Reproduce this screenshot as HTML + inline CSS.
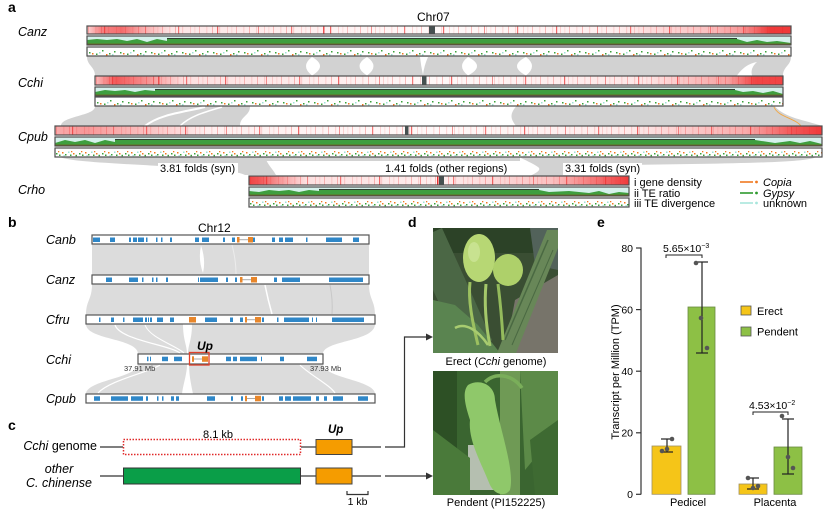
<!DOCTYPE html>
<html><head><meta charset="utf-8"><style>
html,body{margin:0;padding:0;background:#fff;}
svg{display:block;font-family:"Liberation Sans",Arial,sans-serif;}
.o{fill:none;stroke:#4e4e4e;stroke-width:1.2}
.bo{fill:#fff;stroke:#555;stroke-width:1.2}
.it{font-style:italic}
.tg{fill:#3f9e3f}
.tc{fill:#d4efe9}
.tk{fill:#1e1e1e}
.tb{fill:#7a5218;opacity:0.8}
</style></head><body>
<svg width="827" height="511" viewBox="0 0 827 511" xmlns="http://www.w3.org/2000/svg">
<defs>
<pattern id="gd" width="37" height="20" patternUnits="userSpaceOnUse">
<rect width="37" height="20" fill="#fff"/>
<rect x="1" width="1" height="20" fill="#f9c4c4"/>
<rect x="8" width="1.5" height="20" fill="#fde6e6"/>
<rect x="14" width="0.8" height="20" fill="#f7b0b0"/>
<rect x="21" width="1.2" height="20" fill="#fcdcdc"/>
<rect x="29" width="0.8" height="20" fill="#fad0d0"/>
<rect x="33" width="1.5" height="20" fill="#feeeee"/>
</pattern>
<pattern id="gd2" width="113" height="20" patternUnits="userSpaceOnUse">
<rect x="17" width="1.2" height="20" fill="#f06a6a"/>
<rect x="58" width="0.9" height="20" fill="#f28a8a"/>
<rect x="91" width="1.2" height="20" fill="#f47c7c"/>
</pattern>
<pattern id="dv" width="31" height="9" patternUnits="userSpaceOnUse">
<rect width="31" height="9" fill="#fff"/>
<rect x="2" y="5" width="1.5" height="1.5" fill="#3aa03a"/>
<rect x="9" y="6.5" width="1.5" height="1.5" fill="#3aa03a"/>
<rect x="15" y="3" width="1.5" height="1.5" fill="#3aa03a"/>
<rect x="22" y="6" width="1.5" height="1.5" fill="#3aa03a"/>
<rect x="27" y="4" width="1.5" height="1.5" fill="#3aa03a"/>
<rect x="5" y="6" width="1.5" height="1.5" fill="#f07a22"/>
<rect x="19" y="7" width="1.5" height="1.5" fill="#f07a22"/>
<rect x="12" y="5" width="1.5" height="1.5" fill="#9fe2d6"/>
<rect x="25" y="7" width="1.5" height="1.5" fill="#9fe2d6"/>
</pattern>
<pattern id="dv2" width="23" height="9" patternUnits="userSpaceOnUse">
<rect width="23" height="9" fill="#fff"/>
<rect x="1" y="5" width="1.5" height="1.5" fill="#3aa03a"/>
<rect x="4" y="6.5" width="1.5" height="1.5" fill="#3aa03a"/>
<rect x="7" y="4" width="1.5" height="1.5" fill="#f07a22"/>
<rect x="10" y="6" width="1.5" height="1.5" fill="#3aa03a"/>
<rect x="13" y="3.5" width="1.5" height="1.5" fill="#9fe2d6"/>
<rect x="15" y="6.5" width="1.5" height="1.5" fill="#3aa03a"/>
<rect x="18" y="5" width="1.5" height="1.5" fill="#f07a22"/>
<rect x="20.5" y="6.8" width="1.5" height="1.5" fill="#3aa03a"/>
<rect x="8.5" y="7" width="1.3" height="1.3" fill="#9fe2d6"/>
<rect x="3" y="3" width="1.3" height="1.3" fill="#f07a22"/>
<rect x="16" y="3" width="1.3" height="1.3" fill="#f07a22"/>
</pattern>
<linearGradient id="gCanz"><stop offset="0" stop-color="#ee3030" stop-opacity="0.2"/><stop offset="0.02" stop-color="#ee3030" stop-opacity="0.6"/><stop offset="0.05" stop-color="#ee3030" stop-opacity="0.7"/><stop offset="0.08" stop-color="#ee3030" stop-opacity="0.4"/><stop offset="0.12" stop-color="#ee3030" stop-opacity="0.12"/><stop offset="0.5" stop-color="#ee3030" stop-opacity="0.03"/><stop offset="0.75" stop-color="#ee3030" stop-opacity="0.08"/><stop offset="0.88" stop-color="#ee3030" stop-opacity="0.3"/><stop offset="0.93" stop-color="#ee3030" stop-opacity="0.5"/><stop offset="0.97" stop-color="#ee3030" stop-opacity="0.95"/><stop offset="1" stop-color="#ee3030" stop-opacity="0.95"/></linearGradient>
<linearGradient id="gCchi"><stop offset="0" stop-color="#ee3030" stop-opacity="0.3"/><stop offset="0.03" stop-color="#ee3030" stop-opacity="0.8"/><stop offset="0.08" stop-color="#ee3030" stop-opacity="0.5"/><stop offset="0.13" stop-color="#ee3030" stop-opacity="0.15"/><stop offset="0.5" stop-color="#ee3030" stop-opacity="0.03"/><stop offset="0.8" stop-color="#ee3030" stop-opacity="0.12"/><stop offset="0.92" stop-color="#ee3030" stop-opacity="0.45"/><stop offset="0.96" stop-color="#ee3030" stop-opacity="0.9"/><stop offset="1" stop-color="#ee3030" stop-opacity="0.9"/></linearGradient>
<linearGradient id="gCpub"><stop offset="0" stop-color="#ee3030" stop-opacity="0.4"/><stop offset="0.04" stop-color="#ee3030" stop-opacity="0.5"/><stop offset="0.12" stop-color="#ee3030" stop-opacity="0.3"/><stop offset="0.2" stop-color="#ee3030" stop-opacity="0.08"/><stop offset="0.5" stop-color="#ee3030" stop-opacity="0.03"/><stop offset="0.75" stop-color="#ee3030" stop-opacity="0.1"/><stop offset="0.9" stop-color="#ee3030" stop-opacity="0.4"/><stop offset="0.96" stop-color="#ee3030" stop-opacity="0.8"/><stop offset="1" stop-color="#ee3030" stop-opacity="0.95"/></linearGradient>
<linearGradient id="gCrho"><stop offset="0" stop-color="#ee3030" stop-opacity="0.9"/><stop offset="0.03" stop-color="#ee3030" stop-opacity="0.8"/><stop offset="0.08" stop-color="#ee3030" stop-opacity="0.5"/><stop offset="0.15" stop-color="#ee3030" stop-opacity="0.15"/><stop offset="0.5" stop-color="#ee3030" stop-opacity="0.08"/><stop offset="0.8" stop-color="#ee3030" stop-opacity="0.3"/><stop offset="0.92" stop-color="#ee3030" stop-opacity="0.7"/><stop offset="1" stop-color="#ee3030" stop-opacity="0.95"/></linearGradient>
<clipPath id="p1"><rect x="433" y="228" width="125" height="125"/></clipPath>
<clipPath id="p2"><rect x="433" y="371" width="125" height="124"/></clipPath>
</defs>

<!-- ============ PANEL A ============ -->
<text x="8" y="12" font-size="14" font-weight="bold">a</text>
<text x="417" y="21" font-size="12">Chr07</text>

<path d="M87,56.5 L791,56.5 C791,66 783,66 783,76 L95,76 C95,66 87,66 87,56.5Z" fill="#d2d2d2"/>
<path d="M312,57 Q300,66 312,75.5 Q328,66 312,57Z" fill="#fff"/>
<path d="M367,57 Q380,66 367,75.5 Q352,66 367,57Z" fill="#fff"/>
<path d="M420,57 L428,57 Q424,66 423,75 Q421,66 420,57Z" fill="#fff"/>
<path d="M468,57 Q456,66 468,75.5 Q486,66 468,57Z" fill="#fff"/>
<path d="M526,57 Q538,66 526,75.5 Q508,66 526,57Z" fill="#fff"/>
<path d="M737,75.5 Q745,64 757,62 Q750,68 752,75.5Z" fill="#fff"/>

<path d="M95,106.5 L250,106.5 C250,116 240,116 240,126 L61,126 C61,116 95,116 95,106.5Z" fill="#d2d2d2"/>
<path d="M145,126 C160,114 185,112 205,107" fill="none" stroke="#fff" stroke-width="2"/>
<path d="M180,126 C190,116 205,112 222,107" fill="none" stroke="#fff" stroke-width="1.5"/>
<path d="M516,106.5 L775,106.5 C785,118 805,120 822,126 L516,126 C510,118 510,114 516,106.5Z" fill="#d2d2d2"/>
<path d="M774,107 C778,117 795,118 801,126" fill="none" stroke="#f3a640" stroke-width="0.9"/>

<path d="M61,157.5 L265,157.5 C268,165 272,168 276,175 L245,175 C230,166 80,165 61,157.5Z" fill="#d2d2d2"/>
<path d="M265,157.5 L520,157.5 L520,161 L265,161Z" fill="#d2d2d2"/>
<path d="M520,157.5 L815,157.5 C800,166 590,163 568,168 C562,171 572,174 577,176 L530,176 C536,173 542,170 538,167 C532,163 525,160 520,157.5Z" fill="#d2d2d2"/>

<text x="18" y="36" font-size="12.5" class="it">Canz</text>
<text x="18" y="87" font-size="12.5" class="it">Cchi</text>
<text x="18" y="141" font-size="12.5" class="it">Cpub</text>
<text x="18" y="194" font-size="12.5" class="it">Crho</text>

<!-- Canz -->
<g transform="translate(87,26)"><rect width="704" height="8" fill="url(#gd)"/><rect width="704" height="8" fill="url(#gd2)"/><rect width="704" height="8" fill="url(#gCanz)"/><rect x="236" width="1.5" height="8" fill="#ee5050"/><rect x="342" width="6" height="8" fill="#465050"/><rect width="704" height="8" class="o"/></g>
<g transform="translate(87,36)"><rect width="704" height="9" class="tg"/><rect width="704" height="2.2" class="tc"/><rect y="2.2" width="704" height="0.8" class="tk"/><rect y="7.6" width="704" height="1.4" class="tb"/><path d="M0,0H80V5L70,3L60,6L50,3L40,5L30,3L20,4L10,3L0,4Z" fill="#d6f1ec"/><path d="M650,0H704V7L690,5L680,6L670,4L660,6L650,3Z" fill="#d6f1ec"/><rect width="704" height="9" class="o"/></g>
<g transform="translate(87,47)"><rect width="704" height="9" fill="url(#dv)"/><rect width="704" height="9" class="o"/></g>

<!-- Cchi -->
<g transform="translate(95,76)"><rect width="688" height="9" fill="url(#gd)"/><rect width="688" height="9" fill="url(#gd2)"/><rect width="688" height="9" fill="url(#gCchi)"/><rect x="63" width="1.5" height="9" fill="#ee5050"/><rect x="327" width="4.5" height="9" fill="#465050"/><rect width="688" height="9" class="o"/></g>
<g transform="translate(95,87)"><rect width="688" height="9" class="tg"/><rect width="688" height="2.2" class="tc"/><rect y="2.2" width="688" height="0.8" class="tk"/><rect y="7.6" width="688" height="1.4" class="tb"/><path d="M0,0H60V4L50,3L40,5L30,3L20,4L10,3L0,5Z" fill="#d6f1ec"/><path d="M640,0H688V7L678,4L668,6L658,4L648,5L640,3Z" fill="#d6f1ec"/><rect width="688" height="9" class="o"/></g>
<g transform="translate(95,97)"><rect width="688" height="9" fill="url(#dv)"/><rect width="688" height="9" class="o"/></g>

<!-- Cpub -->
<g transform="translate(55,126)"><rect width="767" height="9" fill="url(#gd)"/><rect width="767" height="9" fill="url(#gd2)"/><rect width="767" height="9" fill="url(#gCpub)"/><rect x="350" width="3.5" height="9" fill="#465050"/><rect width="767" height="9" class="o"/></g>
<g transform="translate(55,137)"><rect width="767" height="9" class="tg"/><rect width="767" height="2.2" class="tc"/><rect y="2.2" width="767" height="0.8" class="tk"/><rect y="7.6" width="767" height="1.4" class="tb"/><path d="M0,0H60V5L50,3L40,6L30,3L20,5L10,3L0,6Z" fill="#d6f1ec"/><path d="M700,0H767V7L755,4L745,6L735,4L720,6L700,3Z" fill="#d6f1ec"/><rect width="767" height="9" class="o"/></g>
<g transform="translate(55,148)"><rect width="767" height="9" fill="url(#dv2)"/><rect width="767" height="9" class="o"/></g>

<!-- Crho -->
<g transform="translate(249,176)"><rect width="380" height="9" fill="url(#gd)"/><rect width="380" height="9" fill="url(#gd2)"/><rect width="380" height="9" fill="url(#gCrho)"/><rect x="188" width="1.5" height="9" fill="#e83030"/><rect x="190" width="5" height="9" fill="#465050"/><rect width="380" height="9" class="o"/></g>
<g transform="translate(249,187)"><rect width="380" height="9" class="tg"/><rect width="380" height="2.2" class="tc"/><rect y="2.2" width="380" height="0.8" class="tk"/><rect y="7.6" width="380" height="1.4" class="tb"/><path d="M0,0H70V4L60,3L50,5L40,3L30,4L20,3L10,5L0,4Z" fill="#d6f1ec"/><path d="M290,0H380V6L370,5L360,7L350,4L340,6L320,4L300,5L290,3Z" fill="#d6f1ec"/><rect width="380" height="9" class="o"/></g>
<g transform="translate(249,198)"><rect width="380" height="9" fill="url(#dv2)"/><rect width="380" height="9" class="o"/></g>

<rect x="158" y="163" width="80" height="12" fill="#fff"/>
<rect x="383" y="163" width="126" height="12" fill="#fff"/>
<rect x="563" y="163" width="79" height="12" fill="#fff"/>
<text x="160" y="172" font-size="11">3.81 folds (syn)</text>
<text x="385" y="172" font-size="11">1.41 folds (other regions)</text>
<text x="565" y="172" font-size="11">3.31 folds (syn)</text>

<text x="634" y="186" font-size="11">i  gene density</text>
<text x="634" y="197" font-size="11">ii TE ratio</text>
<text x="634" y="207" font-size="11">iii TE divergence</text>
<line x1="740" y1="182" x2="753" y2="182" stroke="#f07a22" stroke-width="1.6"/><circle cx="756.5" cy="182" r="1.4" fill="#f07a22"/>
<line x1="740" y1="193" x2="753" y2="193" stroke="#2e9a2e" stroke-width="1.6"/><circle cx="756.5" cy="193" r="1.4" fill="#2e9a2e"/>
<line x1="740" y1="203" x2="753" y2="203" stroke="#a8e6dc" stroke-width="1.6"/><circle cx="756.5" cy="203" r="1.4" fill="#a8e6dc"/>
<text x="763" y="186" font-size="11" class="it">Copia</text>
<text x="763" y="197" font-size="11" class="it">Gypsy</text>
<text x="763" y="207" font-size="11">unknown</text>

<!-- ============ PANEL B ============ -->
<text x="8" y="227" font-size="14" font-weight="bold">b</text>
<text x="198" y="232" font-size="12">Chr12</text>

<g fill="#dcdcdc">
<path d="M92,244 L369,244 L369,275 L92,275Z"/>
<path d="M92,284 L369,284 C369,300 375,300 375,315 L86,315 C86,300 92,300 92,284Z"/>
<path d="M86,324 L183,324 C183,340 187,345 187,354 L138,354 C138,338 86,340 86,324Z"/>
<path d="M192,324 L375,324 C375,342 323,340 323,354 L188,354 C188,345 192,340 192,324Z"/>
<path d="M138,364 L187,364 C187,375 183,384 182,394 L86,394 C86,380 138,378 138,364Z"/>
<path d="M189,364 L323,364 C323,378 375,380 375,394 L193,394 C191,384 189,375 189,364Z"/>
</g>
<path d="M201,245.5 Q206,260 203,273 Q198,260 201,245.5Z" fill="#fff"/>
<path d="M232,245 Q236,260 236,274" fill="none" stroke="#ececec" stroke-width="1"/>
<path d="M265,285 Q268,300 272,314" fill="none" stroke="#fff" stroke-width="1.5"/>
<path d="M330,285 Q333,300 332,314" fill="none" stroke="#c8c8c8" stroke-width="1"/>
<path d="M115,325 C120,340 170,345 180,353" fill="none" stroke="#fff" stroke-width="1.2"/>
<path d="M145,325 C150,338 175,345 184,353" fill="none" stroke="#fff" stroke-width="1"/>
<path d="M98,393 C110,380 150,372 160,365" fill="none" stroke="#fff" stroke-width="1.2"/>
<path d="M300,365 C310,375 330,385 335,393" fill="none" stroke="#fff" stroke-width="1.2"/>

<text x="46" y="244" font-size="12.5" class="it">Canb</text>
<text x="46" y="284" font-size="12.5" class="it">Canz</text>
<text x="46" y="324" font-size="12.5" class="it">Cfru</text>
<text x="46" y="364" font-size="12.5" class="it">Cchi</text>
<text x="46" y="403" font-size="12.5" class="it">Cpub</text>

<rect x="92" y="235" width="277" height="9" class="bo"/>
<g fill="#2f87c8">
<rect x="93" y="237.5" width="7" height="4.5"/><rect x="110" y="237.5" width="5" height="4.5"/><rect x="129" y="237.5" width="2" height="4.5"/><rect x="133" y="237.5" width="4" height="4.5"/><rect x="138" y="237.5" width="6" height="4.5"/><rect x="146" y="237.5" width="1.5" height="4.5"/><rect x="156" y="237.5" width="1.5" height="4.5"/><rect x="161" y="237.5" width="1.5" height="4.5"/><rect x="170" y="237.5" width="2" height="4.5"/><rect x="195" y="237.5" width="4" height="4.5"/><rect x="202" y="237.5" width="7" height="4.5"/><rect x="223" y="237.5" width="2" height="4.5"/><rect x="232" y="237.5" width="3" height="4.5"/><rect x="253" y="237.5" width="2" height="4.5"/><rect x="272" y="237.5" width="3" height="4.5"/><rect x="279" y="237.5" width="4" height="4.5"/><rect x="285" y="237.5" width="8" height="4.5"/><rect x="306" y="237.5" width="1.5" height="4.5"/><rect x="326" y="237.5" width="16" height="4.5"/><rect x="353" y="237.5" width="6" height="4.5"/>
</g>
<line x1="239.5" y1="239.7" x2="248" y2="239.7" stroke="#aaa" stroke-width="1"/>
<g fill="#e8862a"><rect x="237" y="237" width="2.5" height="5.5"/><rect x="248" y="237" width="5" height="5.5"/></g>

<rect x="92" y="275" width="277" height="9" class="bo"/>
<g fill="#2f87c8">
<rect x="106" y="277.5" width="6" height="4.5"/><rect x="129" y="277.5" width="9" height="4.5"/><rect x="142" y="277.5" width="1.5" height="4.5"/><rect x="152" y="277.5" width="1.5" height="4.5"/><rect x="156" y="277.5" width="1.5" height="4.5"/><rect x="166" y="277.5" width="2" height="4.5"/><rect x="198" y="277.5" width="1" height="4.5"/><rect x="200" y="277.5" width="18" height="4.5"/><rect x="226" y="277.5" width="2" height="4.5"/><rect x="235" y="277.5" width="2" height="4.5"/><rect x="274" y="277.5" width="3" height="4.5"/><rect x="282" y="277.5" width="18" height="4.5"/><rect x="329" y="277.5" width="34" height="4.5"/>
</g>
<line x1="242" y1="279.7" x2="251" y2="279.7" stroke="#aaa" stroke-width="1"/>
<g fill="#e8862a"><rect x="240" y="277" width="2.5" height="5.5"/><rect x="251" y="277" width="6" height="5.5"/></g>

<rect x="86" y="315" width="289" height="9" class="bo"/>
<g fill="#2f87c8">
<rect x="99" y="317.5" width="1.5" height="4.5"/><rect x="111" y="317.5" width="3" height="4.5"/><rect x="123" y="317.5" width="1.5" height="4.5"/><rect x="133" y="317.5" width="10" height="4.5"/><rect x="145" y="317.5" width="2" height="4.5"/><rect x="148" y="317.5" width="1" height="4.5"/><rect x="150" y="317.5" width="2" height="4.5"/><rect x="157" y="317.5" width="6" height="4.5"/><rect x="170" y="317.5" width="4" height="4.5"/><rect x="205" y="317.5" width="12" height="4.5"/><rect x="230" y="317.5" width="3" height="4.5"/><rect x="240" y="317.5" width="3" height="4.5"/><rect x="262" y="317.5" width="2" height="4.5"/><rect x="277" y="317.5" width="1.5" height="4.5"/><rect x="284" y="317.5" width="25" height="4.5"/><rect x="312" y="317.5" width="1" height="4.5"/><rect x="316" y="317.5" width="1" height="4.5"/><rect x="332" y="317.5" width="32" height="4.5"/>
</g>
<line x1="247" y1="319.7" x2="255" y2="319.7" stroke="#aaa" stroke-width="1"/>
<g fill="#e8862a"><rect x="189" y="317" width="7" height="5.5"/><rect x="245" y="317" width="2" height="5.5"/><rect x="255" y="317" width="6" height="5.5"/></g>

<rect x="138" y="354" width="185" height="10" class="bo"/>
<g fill="#2f87c8">
<rect x="147" y="356.7" width="1.5" height="4.5"/><rect x="150" y="356.7" width="1" height="4.5"/><rect x="162" y="356.7" width="6" height="4.5"/><rect x="174" y="356.7" width="8" height="4.5"/><rect x="226" y="356.7" width="5" height="4.5"/><rect x="233" y="356.7" width="4" height="4.5"/><rect x="240" y="356.7" width="17" height="4.5"/><rect x="261" y="356.7" width="1" height="4.5"/><rect x="280" y="356.7" width="4" height="4.5"/><rect x="307" y="356.7" width="10" height="4.5"/>
</g>
<line x1="194" y1="359" x2="202" y2="359" stroke="#aaa" stroke-width="1"/>
<g fill="#e8862a"><rect x="192" y="356.3" width="2" height="5.5"/><rect x="202" y="356.3" width="6" height="5.5"/></g>
<rect x="189.5" y="352.5" width="19.5" height="12.5" fill="none" stroke="#e0402a" stroke-width="1.3"/>
<text x="197" y="350" font-size="12" font-weight="bold" class="it">Up</text>
<text x="124" y="371" font-size="7.5" fill="#333">37.91 Mb</text>
<text x="310" y="371" font-size="7.5" fill="#333">37.93 Mb</text>

<rect x="86" y="394" width="289" height="9" class="bo"/>
<g fill="#2f87c8">
<rect x="94" y="396.3" width="6" height="4.5"/><rect x="111" y="396.3" width="17" height="4.5"/><rect x="131" y="396.3" width="12" height="4.5"/><rect x="146" y="396.3" width="2" height="4.5"/><rect x="157" y="396.3" width="1.5" height="4.5"/><rect x="162" y="396.3" width="1.5" height="4.5"/><rect x="171" y="396.3" width="3" height="4.5"/><rect x="176" y="396.3" width="3" height="4.5"/><rect x="207" y="396.3" width="8" height="4.5"/><rect x="231" y="396.3" width="2" height="4.5"/><rect x="241" y="396.3" width="2" height="4.5"/><rect x="262" y="396.3" width="2" height="4.5"/><rect x="279" y="396.3" width="4" height="4.5"/><rect x="285" y="396.3" width="6" height="4.5"/><rect x="293" y="396.3" width="18" height="4.5"/><rect x="316" y="396.3" width="3" height="4.5"/><rect x="324" y="396.3" width="3" height="4.5"/><rect x="333" y="396.3" width="10" height="4.5"/><rect x="358" y="396.3" width="10" height="4.5"/>
</g>
<line x1="247" y1="398.5" x2="255" y2="398.5" stroke="#aaa" stroke-width="1"/>
<g fill="#e8862a"><rect x="245" y="395.8" width="2" height="5.5"/><rect x="255" y="395.8" width="6" height="5.5"/></g>

<!-- ============ PANEL C ============ -->
<text x="8" y="430" font-size="14" font-weight="bold">c</text>
<text x="97" y="450" font-size="12.5" text-anchor="end"><tspan class="it">Cchi</tspan> genome</text>
<text x="59" y="473" font-size="12.5" text-anchor="middle" class="it">other</text>
<text x="59" y="487" font-size="12.5" text-anchor="middle" class="it">C. chinense</text>
<g stroke="#333" stroke-width="1.2" fill="none">
<line x1="100" y1="447" x2="123" y2="447"/><line x1="301" y1="447" x2="316" y2="447"/><line x1="352" y1="447" x2="381" y2="447"/>
<path d="M385,447 H404.5 V337 H428"/>
<line x1="100" y1="476" x2="123" y2="476"/><line x1="301" y1="476" x2="316" y2="476"/><line x1="352" y1="476" x2="381" y2="476"/>
<line x1="385" y1="476" x2="428" y2="476"/>
<path d="M347,491 V494.5 H368 V491"/>
</g>
<polygon points="426,333.5 433,337 426,340.5" fill="#333"/>
<polygon points="426,472.5 433,476 426,479.5" fill="#333"/>
<rect x="123.5" y="439.5" width="177" height="15" fill="#fff" stroke="#e02828" stroke-width="1.5" stroke-dasharray="1.5,1.5"/>
<text x="218" y="438" font-size="11" text-anchor="middle">8.1 kb</text>
<rect x="316" y="439.5" width="36" height="15" fill="#f59c00" stroke="#444" stroke-width="1"/>
<text x="328" y="433" font-size="11.5" font-weight="bold" class="it">Up</text>
<rect x="123.5" y="468" width="177" height="16" fill="#0a9e48" stroke="#333" stroke-width="1"/>
<rect x="316" y="468" width="36" height="16" fill="#f59c00" stroke="#444" stroke-width="1"/>
<text x="357.5" y="505" font-size="10.5" text-anchor="middle">1 kb</text>

<!-- ============ PANEL D ============ -->
<text x="408" y="227" font-size="14" font-weight="bold">d</text>
<g clip-path="url(#p1)">
<rect x="433" y="228" width="125" height="125" fill="#3a4e33"/>
<rect x="433" y="228" width="125" height="25" fill="#2c4227"/>
<polygon points="515,300 558,275 558,353 505,353" fill="#77746a"/>
<polygon points="530,228 558,228 558,270 535,265" fill="#52625a"/>
<polygon points="433,232 442,228 470,290 492,340 482,353 455,338 433,290" fill="#4b6745"/>
<polygon points="433,300 455,305 478,325 500,353 433,353" fill="#5a8450"/>
<polygon points="497,353 516,353 558,248 558,230 547,230" fill="#688758"/>
<path d="M505,340 L548,240" stroke="#4a6942" stroke-width="1.5"/>
<path d="M512,345 L553,250" stroke="#4a6942" stroke-width="1"/>
<path d="M470,282 C468,300 472,320 478,345" stroke="#9cc060" stroke-width="3" fill="none"/>
<path d="M486,284 C484,305 486,325 490,346" stroke="#a4c86a" stroke-width="3" fill="none"/>
<path d="M498,284 C500,300 502,320 503,340" stroke="#94bb5c" stroke-width="3" fill="none"/>
<path d="M455,328 C465,322 478,330 488,345" stroke="#a8cc70" stroke-width="2.5" fill="none"/>
<ellipse cx="479" cy="258" rx="16" ry="24" fill="#b7d774"/>
<ellipse cx="508" cy="270" rx="15" ry="16" fill="#aed06a"/>
<ellipse cx="474" cy="252" rx="6" ry="10" fill="#c8e290"/>
</g>
<text x="496" y="365" font-size="11" text-anchor="middle">Erect (<tspan class="it">Cchi</tspan> genome)</text>
<g clip-path="url(#p2)">
<rect x="433" y="371" width="125" height="124" fill="#3a6530"/>
<rect x="433" y="371" width="24" height="124" fill="#2d5025"/>
<rect x="468" y="445" width="32" height="45" fill="#b5bfb0"/>
<polygon points="433,430 470,458 470,495 433,495" fill="#4a7a3a"/>
<rect x="500" y="371" width="20" height="124" fill="#6f9a55"/>
<polygon points="520,371 558,371 558,430 525,470" fill="#5c8a48"/>
<polygon points="530,440 558,420 558,495 535,495" fill="#3e6a32"/>
<path d="M485,382 C495,372 512,374 522,388" stroke="#7aae5a" stroke-width="3.5" fill="none"/>
<path d="M468,385 C480,378 495,385 495,400 C500,430 515,470 510,490 C505,497 495,495 490,485 C480,460 468,440 470,420 C465,405 462,392 468,385 Z" fill="#8fc86a"/>
</g>
<text x="496" y="506" font-size="11" text-anchor="middle">Pendent (PI152225)</text>

<!-- ============ PANEL E ============ -->
<text x="597" y="227" font-size="14" font-weight="bold">e</text>
<text transform="translate(619,372) rotate(-90)" font-size="11" text-anchor="middle">Transcript per Million (TPM)</text>
<g stroke="#333" stroke-width="1.2">
<line x1="641" y1="247.5" x2="641" y2="494.5"/>
<line x1="636" y1="248" x2="641" y2="248"/>
<line x1="636" y1="309.6" x2="641" y2="309.6"/>
<line x1="636" y1="371.2" x2="641" y2="371.2"/>
<line x1="636" y1="432.8" x2="641" y2="432.8"/>
<line x1="636" y1="494.3" x2="641" y2="494.3"/>
</g>
<g font-size="10.5" text-anchor="end">
<text x="633" y="252">80</text><text x="633" y="313.5">60</text><text x="633" y="375">40</text><text x="633" y="436.5">20</text><text x="633" y="498">0</text>
</g>
<rect x="652" y="446" width="29" height="48.3" fill="#f5c518" stroke="#a09060" stroke-width="0.8"/>
<rect x="688" y="307" width="27" height="187.3" fill="#8dc045" stroke="#6a8a40" stroke-width="0.8"/>
<rect x="739" y="484" width="28" height="10.3" fill="#f5c518" stroke="#a09060" stroke-width="0.8"/>
<rect x="774" y="447" width="28" height="47.3" fill="#8dc045" stroke="#6a8a40" stroke-width="0.8"/>
<g stroke="#222" stroke-width="1.2">
<line x1="667" y1="439" x2="667" y2="452"/><line x1="661" y1="439" x2="673" y2="439"/><line x1="661" y1="452" x2="673" y2="452"/>
<line x1="702" y1="262" x2="702" y2="353"/><line x1="696" y1="262" x2="708" y2="262"/><line x1="696" y1="353" x2="708" y2="353"/>
<line x1="753" y1="478" x2="753" y2="489"/><line x1="747" y1="478" x2="759" y2="478"/><line x1="747" y1="489" x2="759" y2="489"/>
<line x1="788" y1="419" x2="788" y2="474"/><line x1="782" y1="419" x2="794" y2="419"/><line x1="782" y1="474" x2="794" y2="474"/>
</g>
<g fill="#555">
<circle cx="662" cy="451" r="2.3"/><circle cx="667" cy="449" r="2.3"/><circle cx="672" cy="439" r="2.3"/>
<circle cx="696" cy="263" r="2.3"/><circle cx="701" cy="318" r="2.3"/><circle cx="707" cy="348" r="2.3"/>
<circle cx="748" cy="478" r="2.3"/><circle cx="753" cy="488" r="2.3"/><circle cx="758" cy="486" r="2.3"/>
<circle cx="782" cy="416" r="2.3"/><circle cx="788" cy="457" r="2.3"/><circle cx="793" cy="468" r="2.3"/>
</g>
<path d="M666,258 V255 H702 V258" fill="none" stroke="#222" stroke-width="1"/>
<text x="663" y="252" font-size="10.5">5.65×10<tspan font-size="7" dy="-4">−3</tspan></text>
<path d="M753,415 V412 H788 V415" fill="none" stroke="#222" stroke-width="1"/>
<text x="749" y="409" font-size="10.5">4.53×10<tspan font-size="7" dy="-4">−2</tspan></text>
<rect x="741" y="306" width="10" height="9" fill="#f5c518" stroke="#555" stroke-width="0.8"/>
<rect x="741" y="327" width="10" height="9" fill="#8dc045" stroke="#555" stroke-width="0.8"/>
<text x="757" y="315" font-size="11">Erect</text>
<text x="757" y="335.5" font-size="11">Pendent</text>
<text x="688" y="506" font-size="11" text-anchor="middle">Pedicel</text>
<text x="775" y="506" font-size="11" text-anchor="middle">Placenta</text>
</svg>
</body></html>
